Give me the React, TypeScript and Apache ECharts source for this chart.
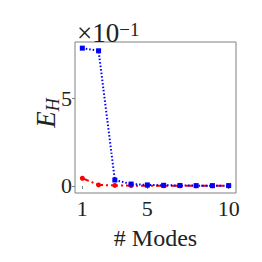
import React, { useEffect, useRef } from "react";
import * as echarts from "echarts";

const modes = [1, 2, 3, 4, 5, 6, 7, 8, 9, 10];
const blueValues = [7.85, 7.7, 0.34, 0.11, 0.06, 0.04, 0.03, 0.02, 0.02, 0.02];
const redValues = [0.44, 0.06, 0.03, 0.02, 0.02, 0.01, 0.01, 0.01, 0.01, 0.01];
const xTicks = [1, 5, 10];
const yTicks = [0, 5];

const FONT = "'Liberation Serif', 'DejaVu Serif', serif";

export default function App() {
  const ref = useRef<HTMLDivElement>(null);
  useEffect(() => {
    if (!ref.current) return;
    const chart = echarts.init(ref.current, null, { renderer: "svg" });
    chart.setOption({
      animation: false,
      backgroundColor: "#ffffff",
      grid: { left: 75, top: 42, width: 161, height: 151, show: true, borderColor: "#808080", borderWidth: 1, backgroundColor: "transparent" },
      xAxis: {
        type: "value",
        min: 0.55,
        max: 10.45,
        axisLine: { show: false },
        splitLine: { show: false },
        axisTick: { show: true, customValues: xTicks, length: 3, lineStyle: { color: "#808080" } },
        axisLabel: { customValues: xTicks, fontFamily: FONT, fontSize: 22, color: "#222", margin: 4 },
        name: "# Modes",
        nameLocation: "middle",
        nameGap: 33,
        nameTextStyle: { fontFamily: FONT, fontSize: 24, color: "#222" },
      },
      yAxis: {
        type: "value",
        min: -0.4,
        max: 8.2,
        axisLine: { show: false },
        splitLine: { show: false },
        axisTick: { show: true, customValues: yTicks, length: 3, lineStyle: { color: "#808080" } },
        axisLabel: { customValues: yTicks, fontFamily: FONT, fontSize: 22, color: "#222", margin: 3 },
      },
      graphic: [
        {
          type: "text",
          x: 47,
          y: 113,
          rotation: Math.PI / 2,
          style: {
            text: "{e|E}{h|H}",
            align: "center",
            verticalAlign: "middle",
            rich: {
              e: { fontFamily: FONT, fontStyle: "italic", fontSize: 27, fill: "#222", lineHeight: 30, verticalAlign: "top" },
              h: { fontFamily: FONT, fontStyle: "italic", fontSize: 18, fill: "#222", lineHeight: 30, verticalAlign: "bottom" },
            },
          },
        },
        {
          type: "text",
          left: 77,
          top: 19,
          style: {
            text: "{a|×10}{b|−1}",
            rich: {
              a: { fontFamily: FONT, fontSize: 27, fill: "#222", lineHeight: 26, verticalAlign: "bottom" },
              b: { fontFamily: FONT, fontSize: 19, fill: "#222", lineHeight: 26, verticalAlign: "top" },
            },
          },
        },
      ],
      series: [
        {
          type: "line",
          data: modes.map((m, i) => [m, blueValues[i]]),
          symbol: "rect",
          symbolSize: 5,
          itemStyle: { color: "#0000ff" },
          lineStyle: { color: "#0000ff", width: 2, type: [1.5, 2] },
          z: 3,
        },
        {
          type: "line",
          data: modes.map((m, i) => [m, redValues[i]]),
          symbol: "circle",
          symbolSize: 5,
          itemStyle: { color: "#ff0000" },
          lineStyle: { color: "#ff0000", width: 2, type: [7, 3, 2, 3] },
          z: 2,
        },
      ],
    });
    return () => chart.dispose();
  }, []);
  return <div ref={ref} style={{ position: "fixed", left: 0, top: 0, width: 262, height: 262 }} />;
}
